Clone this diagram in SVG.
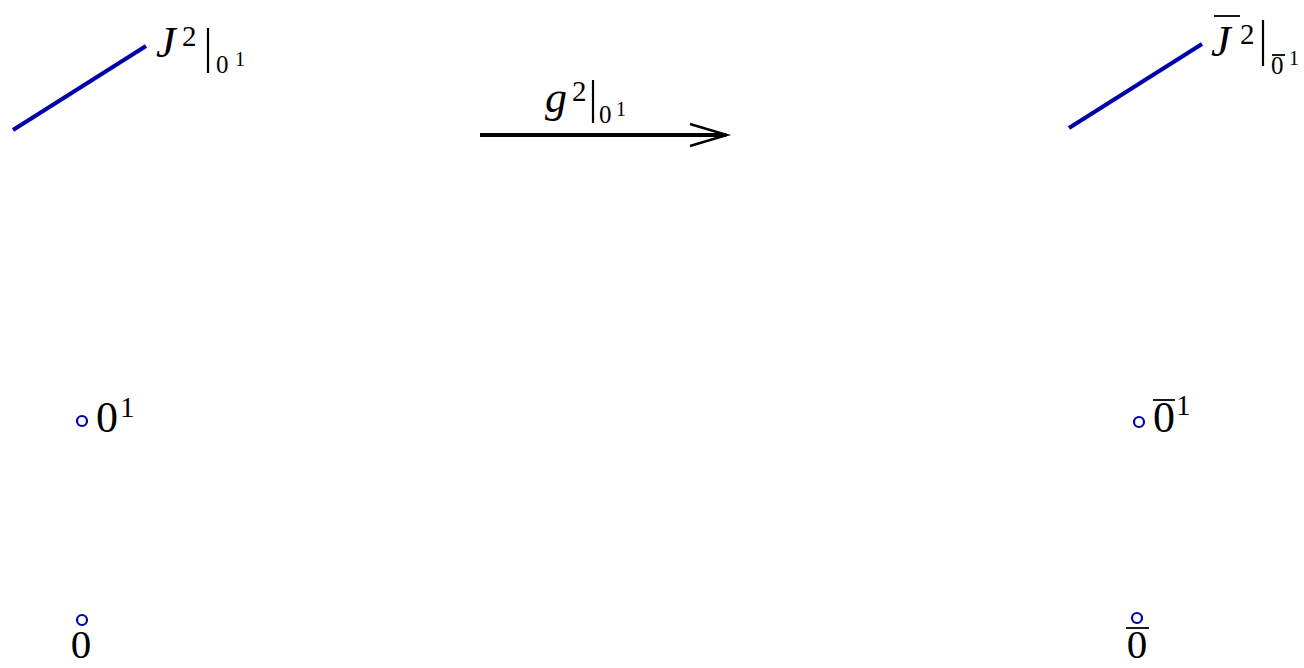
<svg xmlns="http://www.w3.org/2000/svg" width="1304" height="668" viewBox="0 0 1304 668">
<style>
.curve{stroke:#0000aa;stroke-width:4;fill:none;stroke-linecap:butt}
.pt{stroke:#0000aa;stroke-width:2.2;fill:#fff}
.m{font-family:"Liberation Serif",serif;font-size:44px;fill:#000}
.mb{font-family:"Liberation Serif",serif;font-size:41px;fill:#000}
.it{font-style:italic}
.s{font-family:"Liberation Serif",serif;font-size:29px;fill:#000}
.sb{font-family:"Liberation Serif",serif;font-size:25px;fill:#000}
.ss{font-family:"Liberation Serif",serif;font-size:20px;fill:#000}
.bar{stroke:#000;stroke-width:2.2}
.ol{stroke:#000;stroke-width:1.8}
</style>
<rect width="1304" height="668" fill="#fff"/>
<g id="J2-left">
<line class="curve" x1="13" y1="130" x2="146" y2="46"/>
<text class="m it" x="156" y="57">J</text>
<text class="s" x="182" y="46">2</text>
<line class="bar" x1="208" y1="28" x2="208" y2="73"/>
<text class="sb" x="216" y="73">0</text>
<text class="ss" x="235" y="66">1</text>
</g>
<g id="connectors">
<g id="g2-arrow">
<line x1="480" y1="135" x2="726" y2="135" stroke="#000" stroke-width="4"/>
<polyline points="690,124 727,135 690,146" fill="none" stroke="#000" stroke-width="2.4"/>
<text class="m it" x="545" y="112">g</text>
<text class="s" x="572" y="101">2</text>
<line class="bar" x1="593" y1="80" x2="593" y2="123"/>
<text class="sb" x="599" y="123">0</text>
<text class="ss" x="616" y="116">1</text>
</g>
</g>
<g id="J2-right">
<line class="curve" x1="1069" y1="128" x2="1202" y2="44"/>
<line class="ol" x1="1214" y1="16" x2="1240" y2="16"/>
<text class="m it" x="1211" y="56">J</text>
<text class="s" x="1240" y="44">2</text>
<line class="bar" x1="1263" y1="20" x2="1263" y2="66"/>
<line class="ol" x1="1272" y1="55" x2="1285" y2="55"/>
<text class="sb" x="1271" y="74">0</text>
<text class="ss" x="1289" y="65">1</text>
</g>
<g id="pt-0-1">
<circle class="pt" cx="82" cy="421" r="5"/>
<text class="m" x="96" y="432">0</text>
<text class="s" x="120" y="417">1</text>
</g>
<g id="pt-0bar-1">
<circle class="pt" cx="1139" cy="422" r="5"/>
<line class="ol" x1="1153" y1="400" x2="1175" y2="400"/>
<text class="m" x="1153" y="432">0</text>
<text class="s" x="1176" y="415">1</text>
</g>
<g id="pt-0">
<circle class="pt" cx="82" cy="620" r="5"/>
<text class="mb" x="81" y="658" text-anchor="middle">0</text>
</g>
<g id="pt-0bar">
<circle class="pt" cx="1137" cy="618" r="5"/>
<line class="ol" x1="1126" y1="628" x2="1149" y2="628"/>
<text class="mb" x="1137" y="658" text-anchor="middle">0</text>
</g>
</svg>
